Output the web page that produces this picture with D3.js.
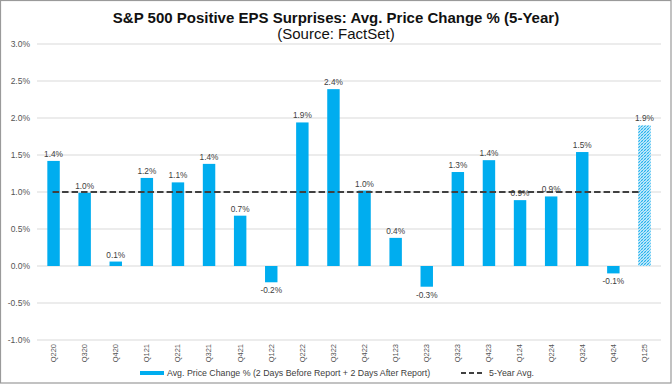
<!DOCTYPE html>
<html><head><meta charset="utf-8">
<script src="https://cdn.jsdelivr.net/npm/d3@7"></script>
<style>
html,body{margin:0;padding:0;background:#fff;}
svg{display:block;font-family:"Liberation Sans",Arial,sans-serif;}
</style></head>
<body>
<svg id="chart" width="672" height="384"></svg>
<script>
const categories = ["Q220","Q320","Q420","Q121","Q221","Q321","Q421","Q122","Q222","Q322","Q422","Q123","Q223","Q323","Q423","Q124","Q224","Q324","Q424","Q125"];
const priceChange = [1.42,0.99,0.06,1.19,1.13,1.38,0.68,-0.22,1.94,2.39,1.02,0.38,-0.28,1.27,1.43,0.89,0.94,1.54,-0.10,1.90];
const fiveYearAvg = 1.0;
const yTicks = [-1.0,-0.5,0.0,0.5,1.0,1.5,2.0,2.5,3.0];
const hatchedIndex = [19];
const title = "S&P 500 Positive EPS Surprises: Avg. Price Change % (5-Year)";
const subtitle = "(Source: FactSet)";
const legendBar = "Avg. Price Change % (2 Days Before Report + 2 Days After Report)";
const legendLine = "5-Year Avg.";

const svg = d3.select("#chart");
const W = 672, H = 384;
const blue = "#00ADEF";

// border
svg.append("rect").attr("x",0.5).attr("y",0.5).attr("width",W-1.5).attr("height",H-1.5)
  .attr("fill","none").attr("stroke","#9a9a9a").attr("stroke-width",1.2);

const defs = svg.append("defs");
const pat = defs.append("pattern").attr("id","hatch").attr("patternUnits","userSpaceOnUse")
  .attr("width",3).attr("height",3);
pat.append("rect").attr("width",3).attr("height",3).attr("fill","#bfe8fa");
pat.append("path").attr("d","M0,3 L3,0 M-1,1 L1,-1 M2,4 L4,2").attr("stroke","#22b2ee").attr("stroke-width",1);
pat.append("path").attr("d","M0,0 L3,3").attr("stroke","#7fd0f3").attr("stroke-width",0.6);

const x = d3.scaleBand().domain(categories).range([38,660]).paddingInner(0.6).paddingOuter(0.3);
const y = d3.scaleLinear().domain([-1,3]).range([340,44]);

// grid
svg.append("g").selectAll("line").data(yTicks).join("line")
  .attr("x1",37).attr("x2",661).attr("y1",d=>y(d)).attr("y2",d=>y(d))
  .attr("stroke","#d9d9d9").attr("stroke-width",1);

// y axis
const yAxis = d3.axisLeft(y).tickValues(yTicks).tickFormat(d=>d.toFixed(1)+"%").tickSize(0).tickPadding(0);
const ya = svg.append("g").attr("transform","translate(30,0)").call(yAxis);
ya.select(".domain").remove();
ya.selectAll("text").attr("fill","#555").attr("font-size","8.5px").attr("font-family","Liberation Sans, Arial, sans-serif");

// bars
svg.append("g").selectAll("rect").data(priceChange).join("rect")
  .attr("x",(d,i)=>x(categories[i]))
  .attr("width",x.bandwidth())
  .attr("y",d=>y(Math.max(0,d)))
  .attr("height",d=>Math.abs(y(d)-y(0)))
  .attr("fill",(d,i)=>hatchedIndex.includes(i)?"url(#hatch)":blue);

// avg line
svg.append("line")
  .attr("x1",x(categories[0])+x.bandwidth()/2-1)
  .attr("x2",x(categories[categories.length-1])+x.bandwidth()/2-3)
  .attr("y1",y(fiveYearAvg)).attr("y2",y(fiveYearAvg))
  .attr("stroke","#404040").attr("stroke-width",2).attr("stroke-dasharray","6.5,3");

// labels
svg.append("g").selectAll("text").data(priceChange).join("text")
  .attr("x",(d,i)=>x(categories[i])+x.bandwidth()/2)
  .attr("y",d=>d>=0? y(d)-4 : y(d)+11)
  .attr("text-anchor","middle").attr("font-size","8.3px").attr("fill","#404040")
  .text(d=>d.toFixed(1)+"%");

// x axis labels
const xAxis = d3.axisBottom(x).tickSize(0).tickPadding(0);
const xa = svg.append("g").attr("transform","translate(0,344)").call(xAxis);
xa.select(".domain").remove();
xa.selectAll("text").attr("transform","rotate(-90)").attr("text-anchor","end")
  .attr("dx",0).attr("dy","0.32em").attr("x",0).attr("y",0)
  .attr("fill","#555").attr("font-size","7.5px").attr("font-family","Liberation Sans, Arial, sans-serif");

// titles
svg.append("text").attr("x",336).attr("y",23).attr("text-anchor","middle")
  .attr("font-size","15px").attr("font-weight","bold").attr("fill","#111").text(title);
svg.append("text").attr("x",336).attr("y",39).attr("text-anchor","middle")
  .attr("font-size","15px").attr("fill","#111").text(subtitle);

// legend
const ly = 373;
svg.append("rect").attr("x",140).attr("y",ly-2).attr("width",24).attr("height",4).attr("fill",blue);
svg.append("text").attr("x",167).attr("y",ly+3).attr("font-size","8.8px").attr("fill","#404040").text(legendBar);
svg.append("line").attr("x1",461).attr("x2",485).attr("y1",ly).attr("y2",ly)
  .attr("stroke","#404040").attr("stroke-width",2).attr("stroke-dasharray","5,3");
svg.append("text").attr("x",489).attr("y",ly+3).attr("font-size","8.8px").attr("fill","#404040").text(legendLine);
</script>
</body></html>
